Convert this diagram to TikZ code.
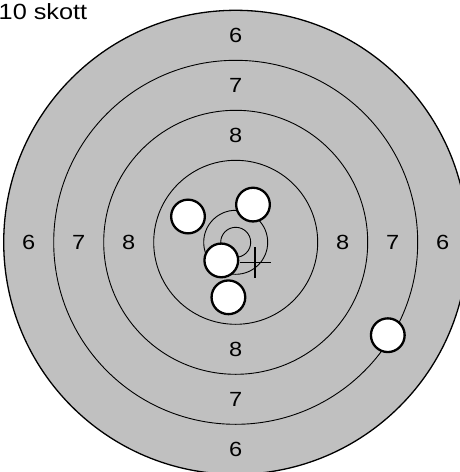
\documentclass[tikz,border=0pt]{standalone}
\usepackage{fontspec}
\setmainfont{Liberation Sans}[FakeStretch=1.15]
\definecolor{targetgray}{RGB}{192,192,192}
\begin{document}
\begin{tikzpicture}[
    x=1pt, y=-1pt,
    ring/.style={draw=black, line width=0.9pt},
    score/.style={font=\fontsize{20.5}{24}\selectfont, inner sep=0pt},
    hole/.style={circle, draw=black, fill=white, line width=2.3pt, minimum size=33.7pt, inner sep=0pt},
    crosshair/.style={draw=black, line width=1.8pt}
]

\fill[white] (0,0) rectangle (460,472);
\useasboundingbox (0,0) rectangle (460,472);
\clip (0,0) rectangle (460,472);

\coordinate (centre) at (235.7,242.3);
\filldraw[fill=targetgray, draw=black, line width=1.3pt] (centre) circle (232pt);
\foreach \r in {182,132,82,32,15}
    \draw[ring] (centre) circle (\r pt);

\foreach \n/\d in {6/207,7/157,8/107} {
    \node[score] (top\n) at (235.7,242.3-\d) {\n};
    \node[score] (bottom\n) at (235.7,242.3+\d) {\n};
    \node[score] (left\n) at (235.7-\d,242.3) {\n};
    \node[score] (right\n) at (235.7+\d,242.3) {\n};
}

\node[anchor=base west, font=\fontsize{22}{26}\selectfont, inner sep=0pt] (title) at (-1.5,19) {10 skott};

\coordinate (aim) at (255,262.5);
\draw[crosshair] ([xshift=-15.5pt]aim) -- ([xshift=15.5pt]aim);
\draw[crosshair] ([yshift=-15.2pt]aim) -- ([yshift=15.2pt]aim);

\node[hole] (shot1) at (188,216.5) {};
\node[hole] (shot2) at (253,204.6) {};
\node[hole] (shot3) at (221.3,260.4) {};
\node[hole] (shot4) at (228.4,297.3) {};
\node[hole] (shot5) at (387.8,335.2) {};

\end{tikzpicture}
\end{document}
